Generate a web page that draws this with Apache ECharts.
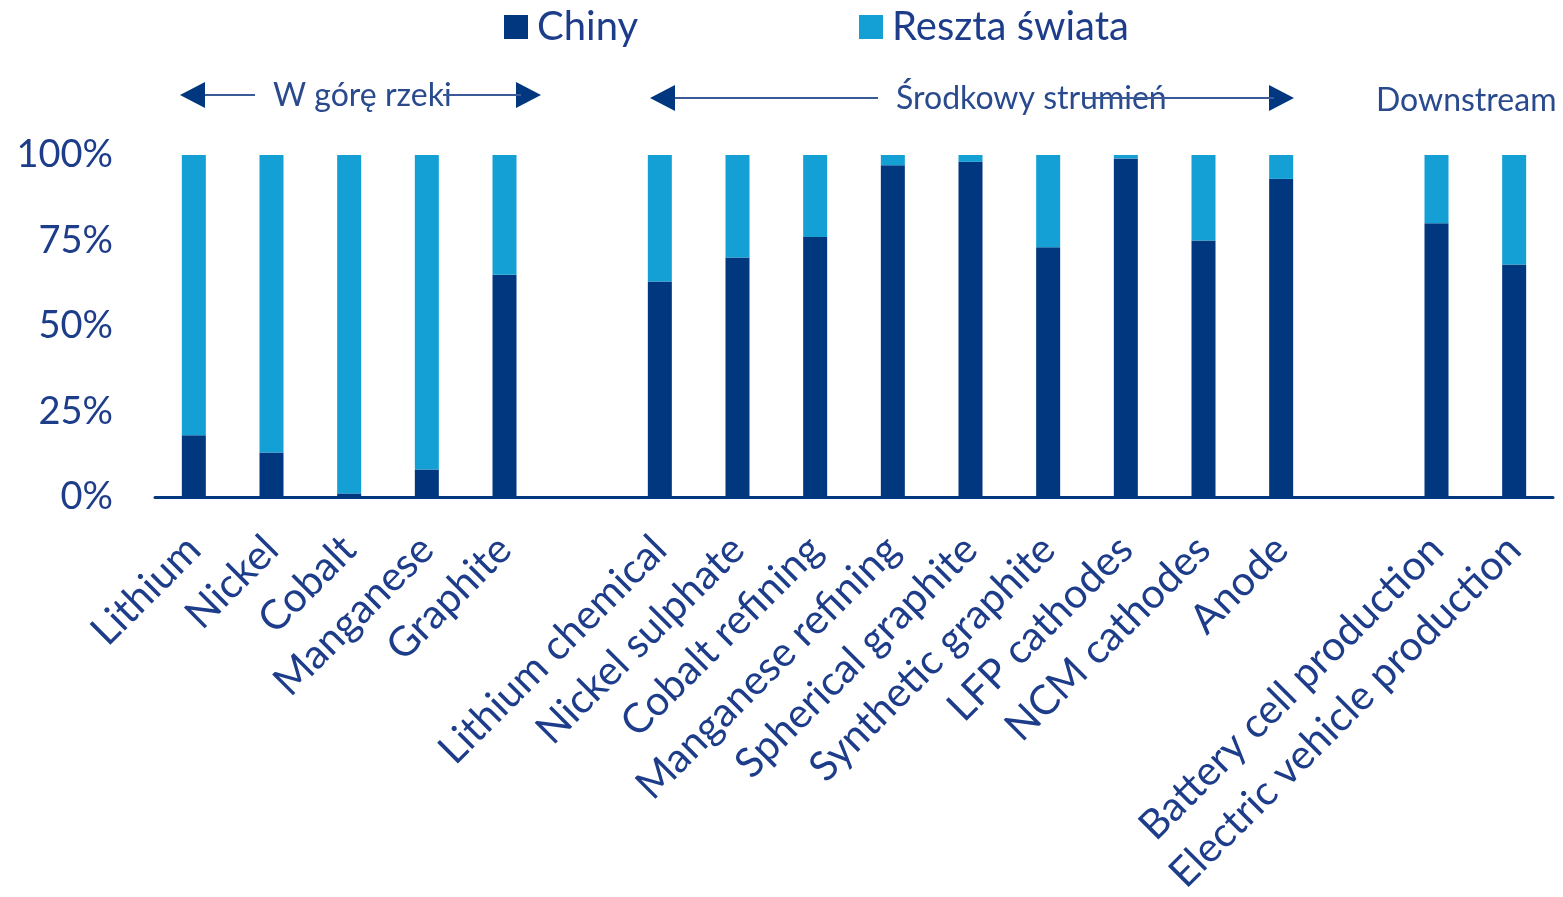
<!DOCTYPE html>
<html>
<head>
<meta charset="utf-8">
<script src="https://cdn.jsdelivr.net/npm/echarts@6/dist/echarts.min.js"></script>
<style>
  html, body { margin: 0; padding: 0; background: #ffffff; }
  #chart { width: 1563px; height: 897px; }
</style>
</head>
<body>
<div id="chart"></div>
<script>
  // kategorie (puste pozycje = przerwy między grupami)
  var categories = ['Lithium', 'Nickel', 'Cobalt', 'Manganese', 'Graphite', '',
    'Lithium chemical', 'Nickel sulphate', 'Cobalt refining', 'Manganese refining',
    'Spherical graphite', 'Synthetic graphite', 'LFP cathodes', 'NCM cathodes', 'Anode', '',
    'Battery cell production', 'Electric vehicle production'];
  var chinaShare = [18, 13, 1, 8, 65, null, 63, 70, 76, 97, 98, 73, 99, 75, 93, null, 80, 68];
  var restShare  = [82, 87, 99, 92, 35, null, 37, 30, 24, 3, 2, 27, 1, 25, 7, null, 20, 32];
  var yTicks = [0, 25, 50, 75, 100];

  var navy = '#00377f';
  var light = '#14a0d4';
  var textColor = '#1d3d8a';
  var font = 'Lato, "Open Sans", sans-serif';

  var chart = echarts.init(document.getElementById('chart'));

  // strzałka: dwa odcinki linii (przerwa na podpis) i groty
  function arrow(x1, x2, y, seg1End, seg2Start, label, tx) {
    return [
      { type: 'line', shape: { x1: x1 + 20, y1: y, x2: seg1End, y2: y },
        style: { stroke: '#3a5b98', lineWidth: 2 } },
      { type: 'line', shape: { x1: seg2Start, y1: y, x2: x2 - 20, y2: y },
        style: { stroke: '#3a5b98', lineWidth: 2 }, z: 2 },
      { type: 'polygon', shape: { points: [[x1, y], [x1 + 25, y - 13], [x1 + 25, y + 13]] },
        style: { fill: navy } },
      { type: 'polygon', shape: { points: [[x2, y], [x2 - 25, y - 13], [x2 - 25, y + 13]] },
        style: { fill: navy } },
      { type: 'text', x: tx, y: y + 1, z: 1,
        style: { text: label, fill: '#2a4a8e', font: '32px ' + font, verticalAlign: 'middle' } }
    ];
  }

  var graphics = []
    .concat(arrow(180, 541, 95, 255, 443, 'W górę rzeki', 273))
    .concat(arrow(650, 1294, 98, 878, 1085, 'Środkowy strumień', 896))
    .concat([{ type: 'text', x: 1376, y: 101,
      style: { text: 'Downstream', fill: '#2a4a8e', font: '32px ' + font, verticalAlign: 'middle' } }]);

  var option = {
    backgroundColor: '#ffffff',
    animation: false,
    legend: [
      { data: ['Chiny'], left: 499, top: 2, icon: 'rect', itemWidth: 24, itemHeight: 24, itemGap: 12,
        textStyle: { fontSize: 40, color: textColor, fontFamily: font, padding: [0, 0, 0, 4] } },
      { data: ['Reszta świata'], left: 854, top: 2, icon: 'rect', itemWidth: 24, itemHeight: 24,
        textStyle: { fontSize: 40, color: textColor, fontFamily: font, padding: [0, 0, 0, 4] } }
    ],
    grid: { left: 155, right: 10, top: 155, bottom: 399 },
    xAxis: {
      type: 'category',
      data: categories,
      axisLine: { lineStyle: { color: navy, width: 3 } },
      axisTick: { show: false },
      axisLabel: {
        interval: 0,
        rotate: 45,
        margin: 46,
        fontSize: 41,
        color: textColor,
        fontFamily: font
      }
    },
    yAxis: {
      type: 'value',
      min: yTicks[0],
      max: yTicks[yTicks.length - 1],
      interval: 25,
      splitLine: { show: false },
      axisLine: { show: false },
      axisLabel: {
        formatter: '{value}%',
        margin: 42,
        fontSize: 38,
        color: textColor,
        fontFamily: font
      }
    },
    series: [
      { name: 'Chiny', type: 'bar', stack: 'share', barWidth: 24,
        itemStyle: { color: navy }, data: chinaShare },
      { name: 'Reszta świata', type: 'bar', stack: 'share', barWidth: 24,
        itemStyle: { color: light }, data: restShare }
    ],
    graphic: graphics
  };

  chart.setOption(option);
</script>
</body>
</html>
